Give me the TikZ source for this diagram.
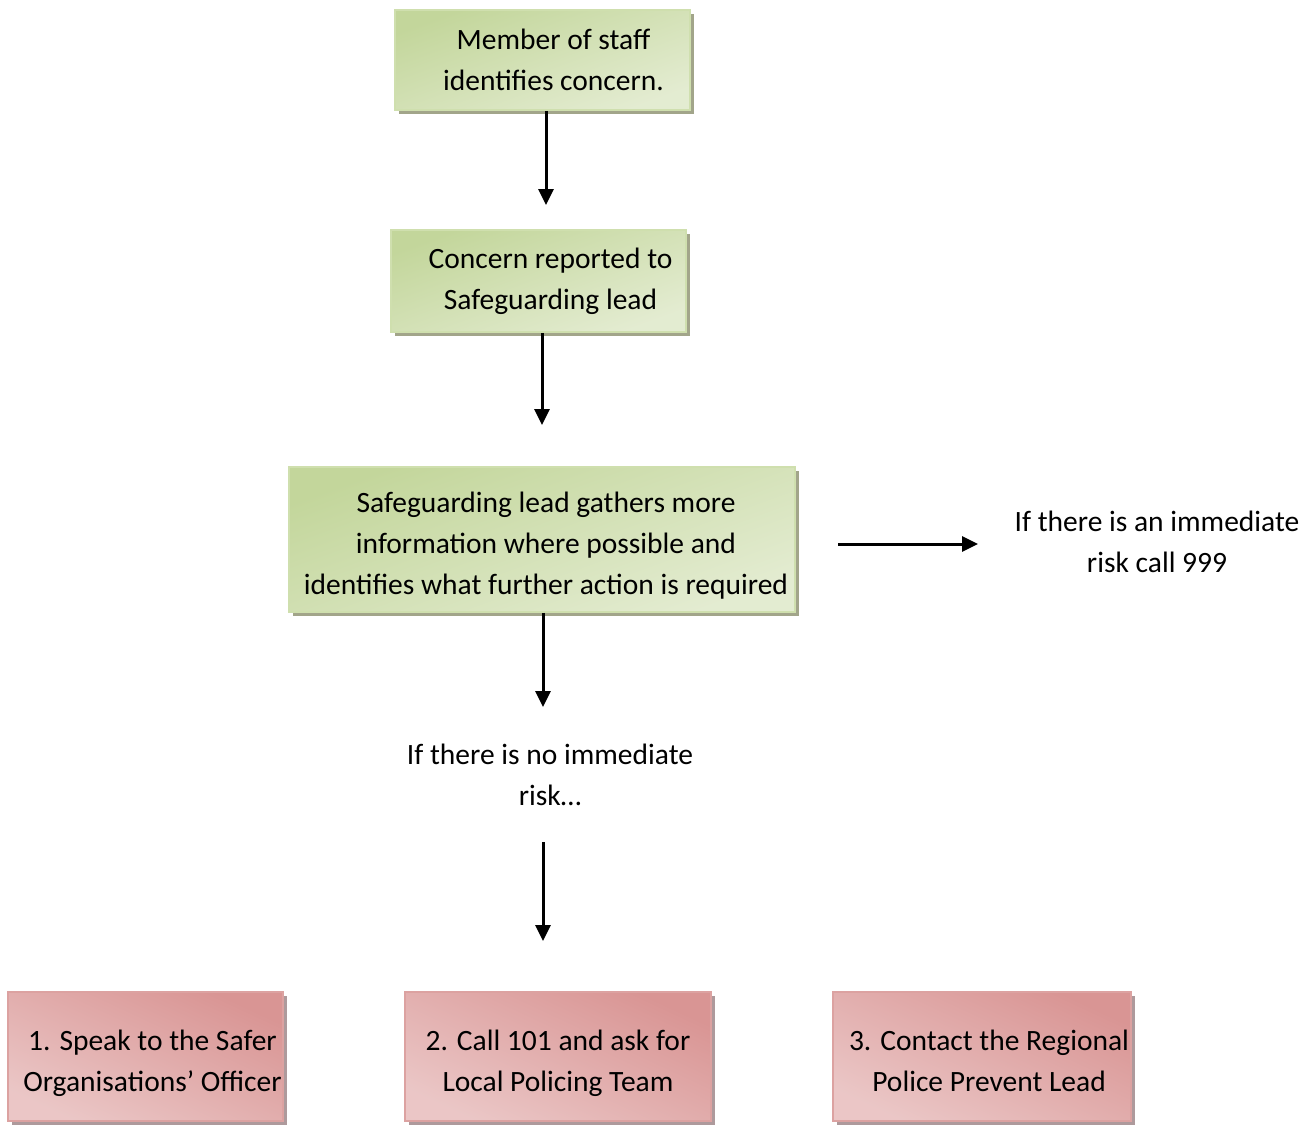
\documentclass[tikz,border=0pt]{standalone}
\usepackage{fontspec}
\setmainfont{Carlito}
\usetikzlibrary{arrows.meta,shadows}
\definecolor{gouter}{HTML}{C3D69B}
\definecolor{ginner}{HTML}{EEF3E3}
\definecolor{gborder}{HTML}{CFDFAE}
\definecolor{gshadow}{HTML}{A2A58A}
\definecolor{pouter}{HTML}{D99594}
\definecolor{pinner}{HTML}{F4E1E1}
\definecolor{pborder}{HTML}{DCA2A1}
\definecolor{pshadow}{HTML}{AE9A9C}
\newcommand{\mystrut}{\rule[-6.5pt]{0pt}{41pt}}
\tikzset{
  every node/.style={font=\fontsize{29.5pt}{41pt}\selectfont, inner sep=0pt},
  greenbox/.style={draw=gborder, line width=1.5pt, top color=gouter, middle color=ginner, bottom color=ginner!75!gouter, shading angle=20,
    drop shadow={shadow xshift=4pt, shadow yshift=-4pt, fill=gshadow, opacity=1}, align=center},
  pinkbox/.style={draw=pborder, line width=1.5pt, top color=pouter, middle color=pinner, bottom color=pinner!65!pouter, shading angle=-25,
    drop shadow={shadow xshift=4pt, shadow yshift=-4pt, fill=pshadow, opacity=1}, align=center,
    minimum height=129pt},
  plain/.style={align=center},
  arr/.style={line width=3pt, -{Triangle[length=16pt,width=15pt]}}
}
\begin{document}
\begin{tikzpicture}[x=1pt,y=-1pt]
\useasboundingbox (0,0) rectangle (1313,1124);
\node[greenbox, minimum width=295pt, minimum height=100pt] (b1) at (542.5,60)
  {\hspace*{22pt}Member of staff\\\hspace*{22pt}identifies concern.};
\node[greenbox, minimum width=295pt, minimum height=102pt] (b2) at (538.5,281)
  {\hspace*{24pt}Concern reported to\\\hspace*{24pt}Safeguarding lead};
\node[greenbox, minimum width=506pt, minimum height=145pt] (b3) at (542,539.5)
  {\mystrut\hspace*{8pt}Safeguarding lead gathers more\\\mystrut\hspace*{8pt}information where possible and\\\mystrut\hspace*{8pt}identifies what further action is required};
\node[plain] (risk) at (1157,542) {If there is an immediate\\risk call 999};
\node[plain] (norisk) at (550,775) {If there is no immediate\\risk…};
\node[pinkbox, minimum width=275pt] (p1) at (145.5,1056.5)
  {\mystrut\hspace*{14pt}1. Speak to the Safer\\\mystrut\hspace*{14pt}Organisations’ Officer};
\node[pinkbox, minimum width=306pt] (p2) at (558,1056.5)
  {\mystrut 2. Call 101 and ask for\\\mystrut Local Policing Team};
\node[pinkbox, minimum width=298pt] (p3) at (982,1056.5)
  {\mystrut\hspace*{14pt}3. Contact the Regional\\\mystrut\hspace*{14pt}Police Prevent Lead};
\coordinate (e1) at (546,205);
\coordinate (e2) at (542,425);
\coordinate (e3) at (543,707);
\coordinate (s4) at (543,842);
\coordinate (e4) at (543,941);
\coordinate (s5) at (838,544);
\coordinate (e5) at (978,544);
\draw[arr] (b1.south -| e1) -- (e1);
\draw[arr] (b2.south -| e2) -- (e2);
\draw[arr] (b3.south -| e3) -- (e3);
\draw[arr] (s4) -- (e4);
\draw[arr] (s5) -- (e5);
\end{tikzpicture}
\end{document}
